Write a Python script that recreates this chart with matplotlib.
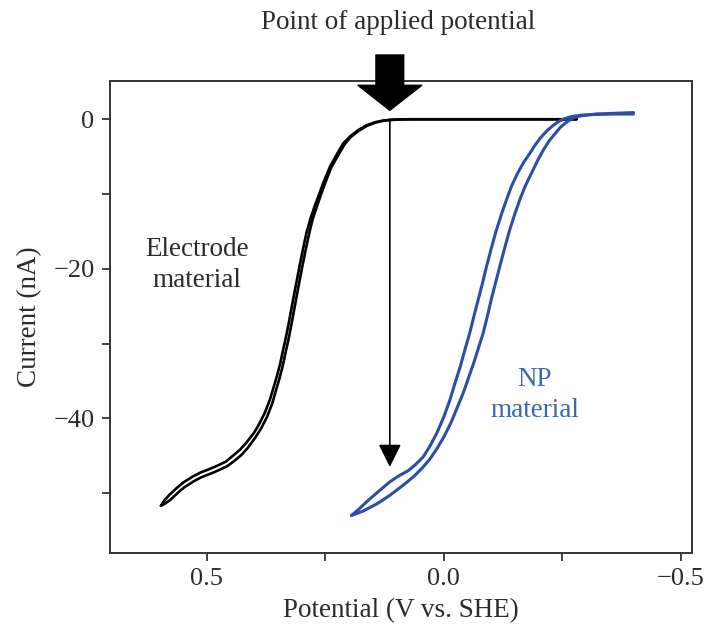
import matplotlib
matplotlib.use('Agg')
import matplotlib.pyplot as plt
from matplotlib.ticker import MultipleLocator

plt.rcParams['font.family'] = ['Liberation Serif', 'DejaVu Serif']

# electrode material (black), two sweeps that nearly overlap
elec_v1 = [0.597, 0.59, 0.58, 0.565, 0.55, 0.53, 0.515, 0.495, 0.48, 0.46, 0.445, 0.43,
           0.416, 0.40, 0.39, 0.378, 0.367, 0.358, 0.352, 0.345, 0.339, 0.333, 0.328, 0.318,
           0.311, 0.304, 0.297, 0.29, 0.281, 0.272, 0.263, 0.255, 0.24, 0.225, 0.212, 0.198,
           0.182, 0.163, 0.145, 0.13, 0.114, 0.095, 0.07, 0.0, -0.1, -0.2, -0.28]
elec_i1 = [-51.7, -51.0, -50.3, -49.4, -48.6, -47.8, -47.3, -46.8, -46.4, -45.8, -45.0, -44.2,
           -43.2, -41.9, -40.8, -39.3, -37.5, -35.6, -34.3, -32.6, -30.8, -29.1, -27.5, -24.1,
           -21.8, -19.5, -17.3, -15.2, -13.2, -11.5, -10.0, -8.6, -6.3, -4.6, -3.2, -2.3,
           -1.5, -0.8, -0.4, -0.2, -0.08, -0.02, 0.0, 0.0, 0.0, 0.0, 0.0]
elec_v2 = [0.597, 0.588, 0.577, 0.562, 0.547, 0.527, 0.512, 0.492, 0.477, 0.457, 0.442, 0.427,
           0.413, 0.397, 0.386, 0.373, 0.362, 0.353, 0.347, 0.34, 0.334, 0.328, 0.323, 0.313,
           0.306, 0.299, 0.292, 0.285, 0.277, 0.268, 0.26, 0.252, 0.238, 0.223, 0.21, 0.197,
           0.181, 0.163, 0.145, 0.13, 0.114, 0.095, 0.07, 0.0, -0.1, -0.2, -0.28]
elec_i2 = [-51.7, -51.4, -50.9, -50.0, -49.2, -48.4, -47.9, -47.4, -47.0, -46.4, -45.7, -44.9,
           -43.9, -42.5, -41.4, -39.8, -38.0, -36.0, -34.7, -33.0, -31.2, -29.5, -27.9, -24.5,
           -22.1, -19.8, -17.6, -15.5, -13.4, -11.7, -10.2, -8.8, -6.5, -4.8, -3.4, -2.4,
           -1.6, -0.9, -0.45, -0.22, -0.1, -0.03, 0.0, 0.0, 0.0, 0.0, 0.0]

# NP material (blue), forward / reverse sweep
np_v1 = [0.195, 0.18, 0.16, 0.14, 0.114, 0.095, 0.075, 0.06, 0.044, 0.03, 0.015, 0.0,
         -0.013, -0.024, -0.035, -0.045, -0.055, -0.064, -0.073, -0.082, -0.09, -0.10,
         -0.11, -0.121, -0.132, -0.143, -0.155, -0.168, -0.181, -0.193, -0.205, -0.218,
         -0.231, -0.242, -0.252, -0.263, -0.273, -0.29, -0.32, -0.36, -0.40]
np_i1 = [-53.0, -52.2, -51.0, -49.9, -48.5, -47.7, -47.0, -46.2, -45.2, -43.8, -42.0, -39.8,
         -37.5, -35.2, -33.0, -30.7, -28.5, -26.2, -24.0, -21.8, -19.7, -17.3,
         -15.0, -12.8, -10.8, -8.9, -7.3, -5.8, -4.6, -3.4, -2.4, -1.5,
         -0.8, -0.3, 0.0, 0.25, 0.4, 0.55, 0.65, 0.7, 0.7]
np_v2 = [0.195, 0.17, 0.14, 0.114, 0.095, 0.079, 0.062, 0.045, 0.03, 0.015, 0.0, -0.015,
         -0.028, -0.041, -0.052, -0.063, -0.073, -0.083, -0.092, -0.10, -0.109, -0.118,
         -0.128, -0.138, -0.149, -0.16, -0.172, -0.185, -0.198, -0.21, -0.222, -0.235,
         -0.247, -0.259, -0.268, -0.277, -0.294, -0.32, -0.36, -0.40]
np_i2 = [-53.0, -52.4, -51.4, -50.3, -49.4, -48.6, -47.7, -46.6, -45.5, -44.1, -42.5, -40.6,
         -38.6, -36.6, -34.6, -32.6, -30.6, -28.6, -26.3, -24.1, -21.9, -19.7,
         -17.3, -15.0, -12.8, -10.8, -8.9, -7.2, -5.5, -4.1, -2.9, -1.9,
         -1.0, -0.4, 0.0, 0.3, 0.5, 0.7, 0.8, 0.9]

applied_v = 0.114
arrow_end_i = -46.5

TXT = '#2b2b2b'
BLUE = '#2c4fa6'

fig = plt.figure(figsize=(7.08, 6.34), dpi=100)
ax = fig.add_axes([0.155, 0.128, 0.822, 0.744])

kw = dict(solid_capstyle='round', solid_joinstyle='round')
ax.plot(elec_v1, elec_i1, color='black', lw=1.9, **kw)
ax.plot(elec_v2, elec_i2, color='black', lw=1.9, **kw)
ax.plot(np_v1, np_i1, color=BLUE, lw=2.2, **kw)
ax.plot(np_v2, np_i2, color=BLUE, lw=2.2, **kw)

# thin arrow down from applied potential
ax.annotate('', xy=(applied_v, arrow_end_i), xytext=(applied_v, 0.0),
            arrowprops=dict(arrowstyle='-|>,head_length=0.7,head_width=0.35',
                            mutation_scale=20, lw=1.2, color='black',
                            shrinkA=0, shrinkB=0))
# big block arrow on top
ax.annotate('', xy=(applied_v, 1.2), xytext=(applied_v, 8.6),
            arrowprops=dict(width=20, headwidth=46, headlength=18,
                            facecolor='black', edgecolor='black', shrink=0),
            annotation_clip=False)

ax.text(0.521, -19.5, 'Electrode\nmaterial', ha='center', va='center',
        fontsize=19.5, color=TXT, linespacing=1.3)
ax.text(-0.192, -36.9, 'NP\nmaterial', ha='center', va='center',
        fontsize=19.5, color='#3a6aae', linespacing=1.3)

ax.set_xlim(0.705, -0.523)
ax.set_ylim(-58, 5.1)
ax.xaxis.set_major_locator(MultipleLocator(0.5))
ax.xaxis.set_minor_locator(MultipleLocator(0.25))
ax.yaxis.set_major_locator(MultipleLocator(20))
ax.yaxis.set_minor_locator(MultipleLocator(10))
ax.xaxis.set_major_formatter(lambda x, p: f'{x:.1f}'.replace('-', '\u2212'))
ax.yaxis.set_major_formatter(lambda y, p: f'{y:.0f}'.replace('-', '\u2212'))
ax.tick_params(which='both', direction='out', length=6, width=1.3, color='#333333',
               labelsize=19, labelcolor=TXT, pad=5)
for s in ax.spines.values():
    s.set_linewidth(1.4)
    s.set_color('#333333')

ax.set_xlabel('Potential (V vs. SHE)', fontsize=19.5, color=TXT, labelpad=6)
ax.set_ylabel('Current (nA)', fontsize=19.5, color=TXT, labelpad=8)
fig.text(0.562, 0.965, 'Point of applied potential', ha='center', va='center',
         fontsize=19.5, color=TXT)

fig.savefig('out.png', dpi=100)
